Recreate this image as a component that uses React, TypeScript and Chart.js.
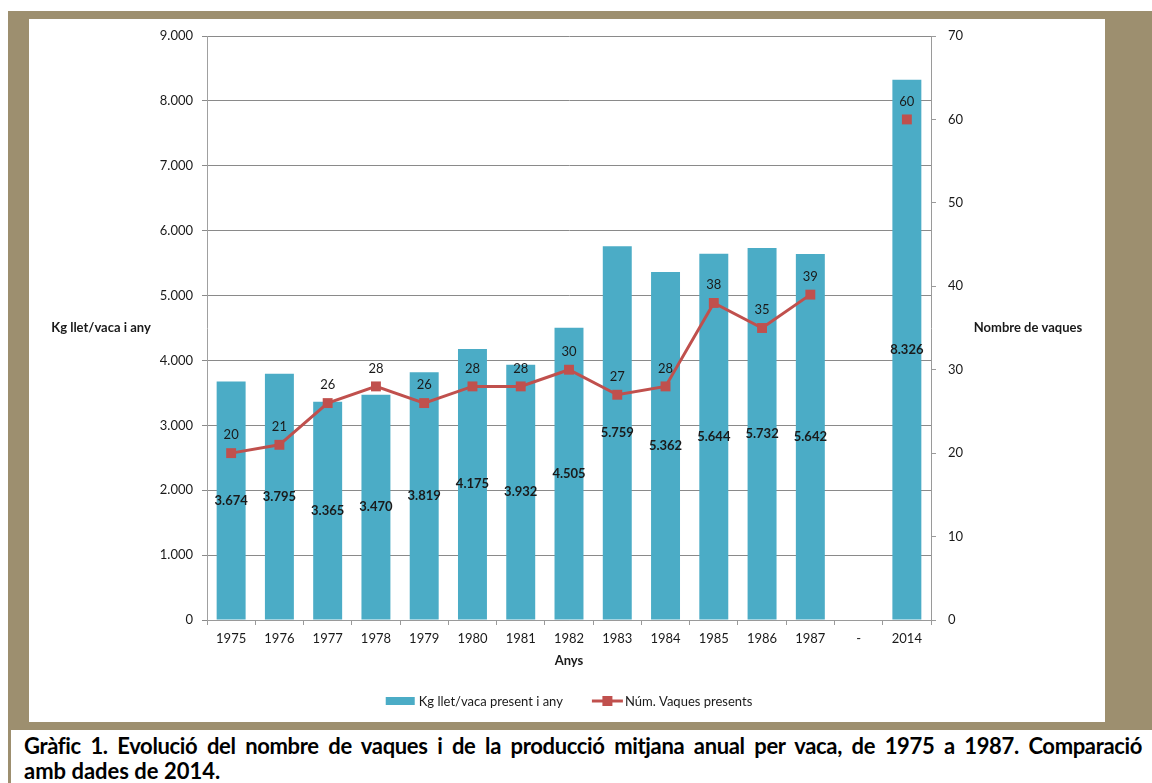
import React, { useEffect, useRef } from "react";
import { Chart, registerables } from "chart.js";
Chart.register(...registerables);

const categories = ["1975", "1976", "1977", "1978", "1979", "1980", "1981", "1982", "1983", "1984", "1985", "1986", "1987", "-", "2014"];
const milkPerCow: (number | null)[] = [3674, 3795, 3365, 3470, 3819, 4175, 3932, 4505, 5759, 5362, 5644, 5732, 5642, null, 8326];
const cowCount: (number | null)[] = [20, 21, 26, 28, 26, 28, 28, 30, 27, 28, 38, 35, 39, null, 60];
const leftMax = 9000;
const leftStep = 1000;
const rightMax = 70;
const rightStep = 10;
const leftAxisTitle = "Kg llet/vaca i any";
const rightAxisTitle = "Nombre de vaques";
const xAxisTitle = "Anys";
const barSeriesLabel = "Kg llet/vaca present i any";
const lineSeriesLabel = "Núm. Vaques presents";
const captionLine1 = "Gràfic 1. Evolució del nombre de vaques i de la producció mitjana anual per vaca, de 1975 a 1987. Comparació";
const captionLine2 = "amb dades de 2014.";

const FONT = "Lato, 'Open Sans', sans-serif";
const BAR_COLOR = "#4BACC6";
const LINE_COLOR = "#C0504D";
const TAN = "#9D8F6F";
const TEXT = "#1a1a1a";

const fmt = (v: number) => String(Math.round(v)).replace(/\B(?=(\d{3})+(?!\d))/g, ".");

const overlayPlugin = {
  id: "overlay",
  afterDatasetsDraw(chart: any) {
    const ctx = chart.ctx;
    ctx.save();
    ctx.textAlign = "center";
    ctx.textBaseline = "middle";
    ctx.fillStyle = TEXT;
    const barMeta = chart.getDatasetMeta(1);
    ctx.font = `bold 13px ${FONT}`;
    barMeta.data.forEach((el: any, i: number) => {
      const v = milkPerCow[i];
      if (v == null) return;
      const p = el.getProps(["x", "y", "base"], true);
      ctx.fillText(fmt(v), p.x, (p.y + p.base) / 2);
    });
    const lineMeta = chart.getDatasetMeta(0);
    ctx.font = `13px ${FONT}`;
    lineMeta.data.forEach((el: any, i: number) => {
      const v = cowCount[i];
      if (v == null) return;
      const p = el.getProps(["x", "y"], true);
      ctx.fillText(String(v), p.x, p.y - 18);
    });
    ctx.restore();
  },
  afterDraw(chart: any) {
    const ctx = chart.ctx;
    const { chartArea, scales } = chart;
    ctx.save();
    const midY = (chartArea.top + chartArea.bottom) / 2;
    ctx.font = `bold 13px ${FONT}`;
    ctx.fillStyle = TEXT;
    ctx.textAlign = "center";
    ctx.textBaseline = "middle";
    ctx.fillText(leftAxisTitle, scales.y.left + 72, midY);
    ctx.fillText(rightAxisTitle, scales.y1.right - 77, midY);

    // legend
    ctx.font = `13px ${FONT}`;
    const ly = chart.height - 21;
    const w1 = ctx.measureText(barSeriesLabel).width;
    const w2 = ctx.measureText(lineSeriesLabel).width;
    const total = 29 + 4 + w1 + 29 + 31 + 2 + w2;
    let x = (chartArea.left + chartArea.right) / 2 - total / 2;
    ctx.fillStyle = BAR_COLOR;
    ctx.fillRect(x, ly - 4, 29, 8);
    x += 33;
    ctx.fillStyle = TEXT;
    ctx.textAlign = "left";
    ctx.fillText(barSeriesLabel, x, ly + 1);
    x += w1 + 29;
    ctx.strokeStyle = LINE_COLOR;
    ctx.lineWidth = 3;
    ctx.beginPath();
    ctx.moveTo(x, ly);
    ctx.lineTo(x + 31, ly);
    ctx.stroke();
    ctx.fillStyle = LINE_COLOR;
    ctx.fillRect(x + 15.5 - 5, ly - 5, 10, 10);
    x += 33;
    ctx.fillStyle = TEXT;
    ctx.fillText(lineSeriesLabel, x, ly + 1);
    ctx.restore();
  },
};

export default function App() {
  const ref = useRef<HTMLCanvasElement | null>(null);
  useEffect(() => {
    if (!ref.current) return;
    const chart = new Chart(ref.current, {
      type: "bar",
      data: {
        labels: categories,
        datasets: [
          {
            type: "line",
            label: lineSeriesLabel,
            data: cowCount,
            yAxisID: "y1",
            borderColor: LINE_COLOR,
            backgroundColor: LINE_COLOR,
            borderWidth: 3,
            pointStyle: "rect",
            pointRadius: 7,
            pointBorderWidth: 0,
            pointBackgroundColor: LINE_COLOR,
            spanGaps: false,
            order: 1,
          } as any,
          {
            type: "bar",
            label: barSeriesLabel,
            data: milkPerCow,
            yAxisID: "y",
            backgroundColor: BAR_COLOR,
            borderWidth: 0,
            categoryPercentage: 1,
            barPercentage: 0.6,
            order: 2,
          } as any,
        ],
      },
      options: {
        responsive: false,
        animation: false,
        layout: { autoPadding: false, padding: { top: 17, bottom: 40, left: 0, right: 0 } },
        plugins: { legend: { display: false }, tooltip: { enabled: false } },
        scales: {
          x: {
            offset: true,
            grid: { offset: true, drawOnChartArea: false, drawTicks: true, tickLength: 5, color: "#9a9a9a" },
            border: { display: true, color: "#9a9a9a" },
            ticks: { font: { family: FONT, size: 13 }, color: TEXT, padding: 6, maxRotation: 0, autoSkip: false },
            title: { display: true, text: xAxisTitle, font: { family: FONT, size: 13, weight: "bold" }, color: TEXT, padding: { top: 4, bottom: 13 } },
            afterFit: (s: any) => { s.height = 62; s.paddingLeft = 0; s.paddingRight = 0; },
          },
          y: {
            position: "left",
            min: 0,
            max: leftMax,
            ticks: { stepSize: leftStep, callback: (v: any) => fmt(Number(v)), padding: 9, font: { family: FONT, size: 13 }, color: TEXT },
            grid: { color: "#8a8a8a", tickLength: 5 },
            border: { display: true, color: "#a0a0a0" },
            afterFit: (s: any) => { s.width = 178; s.paddingTop = 0; s.paddingBottom = 0; },
          },
          y1: {
            position: "right",
            min: 0,
            max: rightMax,
            ticks: { stepSize: rightStep, padding: 12, font: { family: FONT, size: 13 }, color: TEXT },
            grid: { drawOnChartArea: false, tickLength: 5, color: "#9a9a9a" },
            border: { display: true, color: "#9a9a9a" },
            afterFit: (s: any) => { s.width = 174; s.paddingTop = 0; s.paddingBottom = 0; },
          },
        } as any,
      },
      plugins: [overlayPlugin],
    });
    return () => chart.destroy();
  }, []);

  return (
    <div style={{ position: "absolute", left: 0, top: 0, width: 1152, height: 783, background: "#fff", overflow: "hidden" }}>
      <div style={{ position: "absolute", left: 8, top: 11, width: 1144, height: 719, background: TAN }} />
      <div style={{ position: "absolute", left: 29, top: 19, width: 1076, height: 703, background: "#fff" }}>
        <canvas ref={ref} width={1076} height={703} style={{ display: "block" }} />
      </div>
      <div
        style={{
          position: "absolute",
          left: 8,
          top: 730,
          width: 1144,
          height: 53,
          borderLeft: `3px solid ${TAN}`,
          background: "#fff",
          boxSizing: "border-box",
          padding: "3px 10px 0 13px",
          fontFamily: FONT,
          fontWeight: "bold",
          fontSize: 22,
          lineHeight: "25px",
          color: "#000",
        }}
      >
        <div style={{ textAlign: "justify", textAlignLast: "justify", whiteSpace: "nowrap", letterSpacing: "-0.35px" } as any}>{captionLine1}</div>
        <div>{captionLine2}</div>
      </div>
    </div>
  );
}
